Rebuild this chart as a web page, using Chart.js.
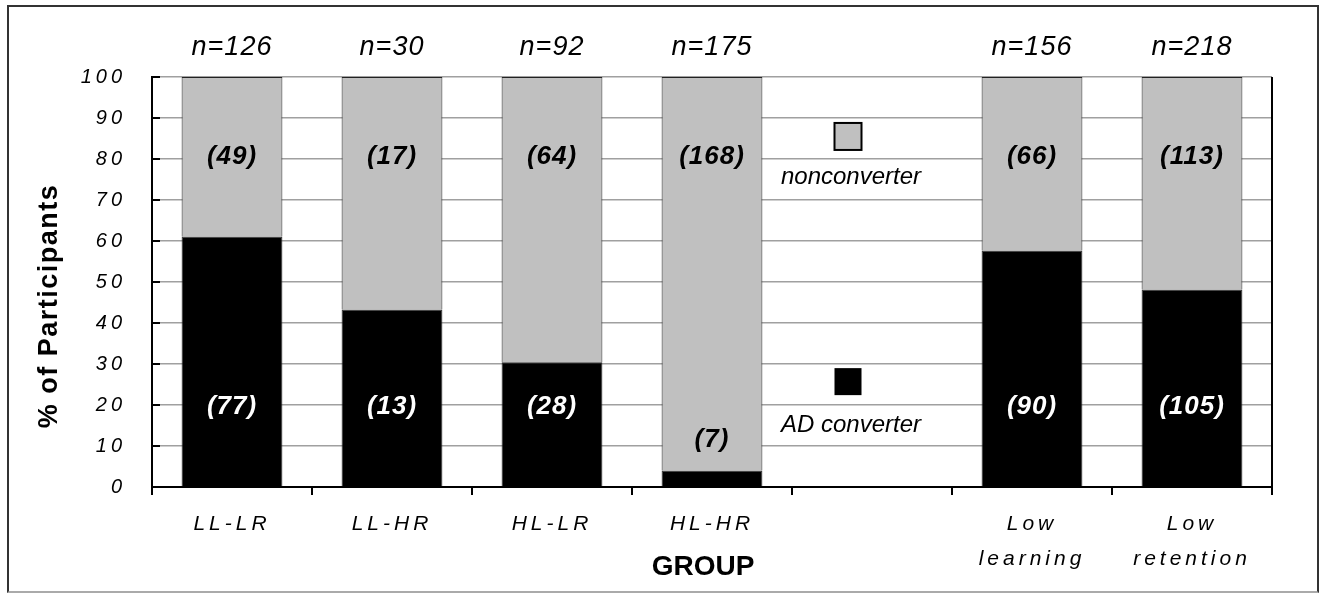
<!DOCTYPE html>
<html>
<head>
<meta charset="utf-8">
<script src="https://cdn.jsdelivr.net/npm/chart.js@4.4.1/dist/chart.umd.min.js"></script>
<style>
  body { margin: 0; background: #fff; }
  #wrap { position: relative; width: 1324px; height: 595px; }
  #frame { position: absolute; left: 7px; top: 5px; width: 1308px; height: 584px; border: 2px solid #333; border-bottom-color: #aaa; pointer-events: none; }
</style>
</head>
<body>
<div id="wrap">
  <canvas id="chart" width="1324" height="595"></canvas>
  <div id="frame"></div>
</div>
<script>
// groups (the 5th slot is left empty for the legend)
let groups = [["LL-LR"], ["LL-HR"], ["HL-LR"], ["HL-HR"], [""], ["Low", "learning"], ["Low", "retention"]];
let totals = [126, 30, 92, 175, null, 156, 218];
let converterCounts = [77, 13, 28, 7, null, 90, 105];
let nonconverterCounts = [49, 17, 64, 168, null, 66, 113];
// % of participants
let converterPct = [61.1, 43.3, 30.4, 4.0, null, 57.7, 48.2];
let nonconverterPct = [38.9, 56.7, 69.6, 96.0, null, 42.3, 51.8];

let GRAY = "#c0c0c0";
let FONT = "'Liberation Sans', Arial, sans-serif";

let labelsPlugin = {
  id: "labels",
  beforeDraw(chart) {
    // the tick labels in the picture are widely spaced
    chart.ctx.letterSpacing = "4px";
  },
  afterDatasetsDraw(chart) {
    let ctx = chart.ctx;
    let x = chart.scales.x;
    let y = chart.scales.y;
    let area = chart.chartArea;
    ctx.save();
    ctx.textAlign = "center";
    ctx.textBaseline = "middle";

    // right border of the plot and tick at its foot
    ctx.strokeStyle = "#000";
    ctx.lineWidth = 2;
    ctx.beginPath();
    ctx.moveTo(area.right, area.top);
    ctx.lineTo(area.right, area.bottom + 8);
    ctx.stroke();
    // short inner ticks on the y axis
    y.ticks.forEach(t => {
      let py = y.getPixelForValue(t.value);
      ctx.beginPath();
      ctx.moveTo(area.left, py);
      ctx.lineTo(area.left + 8, py);
      ctx.stroke();
    });

    for (let i = 0; i < groups.length; i++) {
      if (totals[i] == null) continue;
      let cx = x.getPixelForValue(i);

      ctx.letterSpacing = "1px";
      ctx.font = "italic 27px " + FONT;
      ctx.fillStyle = "#000";
      ctx.fillText("n=" + totals[i], cx, area.top - 30);

      ctx.letterSpacing = "1px";
      ctx.font = "italic bold 26px " + FONT;
      ctx.fillStyle = "#000";
      ctx.fillText("(" + nonconverterCounts[i] + ")", cx, y.getPixelForValue(80.5));

      if (converterPct[i] < 15) {
        ctx.fillStyle = "#000";
        ctx.fillText("(" + converterCounts[i] + ")", cx, y.getPixelForValue(converterPct[i] + 7.5));
      } else {
        ctx.fillStyle = "#fff";
        ctx.fillText("(" + converterCounts[i] + ")", cx, y.getPixelForValue(19.5));
      }
    }

    // legend in the empty slot
    let lx = x.getPixelForValue(4) - 24;
    ctx.letterSpacing = "0px";
    ctx.lineWidth = 2;
    ctx.strokeStyle = "#000";
    let sq = 27;
    let gy = y.getPixelForValue(85.5);
    ctx.fillStyle = GRAY;
    ctx.fillRect(lx - sq / 2, gy - sq / 2, sq, sq);
    ctx.strokeRect(lx - sq / 2, gy - sq / 2, sq, sq);
    let by = y.getPixelForValue(25.7);
    ctx.fillStyle = "#000";
    ctx.fillRect(lx - sq / 2, by - sq / 2, sq, sq);
    ctx.font = "italic 24px " + FONT;
    ctx.fillText("nonconverter", lx + 3, y.getPixelForValue(75.6));
    ctx.fillText("AD converter", lx + 3, y.getPixelForValue(15.1));

    // axis titles
    ctx.font = "bold 28px " + FONT;
    ctx.letterSpacing = "0px";
    ctx.fillText("GROUP", (area.left + area.right) / 2 - 9, 567);
    ctx.translate(50, (area.top + area.bottom) / 2 + 24);
    ctx.rotate(-Math.PI / 2);
    ctx.font = "bold 27px " + FONT;
    ctx.letterSpacing = "1.5px";
    ctx.fillText("% of Participants", 0, 0);
    ctx.restore();
  }
};

new Chart(document.getElementById("chart"), {
  type: "bar",
  data: {
    labels: groups,
    datasets: [
      {
        label: "AD converter",
        data: converterPct,
        backgroundColor: "#000",
        borderColor: "#222",
        borderWidth: 1,
      },
      {
        label: "nonconverter",
        data: nonconverterPct,
        backgroundColor: GRAY,
        borderColor: "#222",
        borderWidth: 1,
      },
    ],
  },
  options: {
    responsive: false,
    animation: false,
    events: [],
    barPercentage: 0.63,
    categoryPercentage: 1.0,
    layout: { padding: { top: 77, right: 52, left: 0, bottom: 0 } },
    plugins: { legend: { display: false }, tooltip: { enabled: false } },
    scales: {
      x: {
        stacked: true,
        afterFit: (s) => { s.height = 108; },
        grid: { offset: true, drawOnChartArea: false, drawTicks: true, tickLength: 8, color: "#000", lineWidth: 2 },
        border: { color: "#000", width: 2 },
        ticks: {
          color: "#000",
          font: { family: FONT, size: 21, style: "italic", lineHeight: 1.65 },
          padding: 12,
          maxRotation: 0,
          autoSkip: false,
        },
      },
      y: {
        stacked: true,
        min: 0,
        max: 100,
        afterFit: (s) => { s.width = 152; },
        grid: { color: "#a0a0a0", lineWidth: 1.5, drawTicks: false },
        border: { color: "#000", width: 2 },
        ticks: {
          stepSize: 10,
          color: "#000",
          font: { family: FONT, size: 20, style: "italic" },
          padding: 26,
        },
      },
    },
  },
  plugins: [labelsPlugin],
});
</script>
</body>
</html>
